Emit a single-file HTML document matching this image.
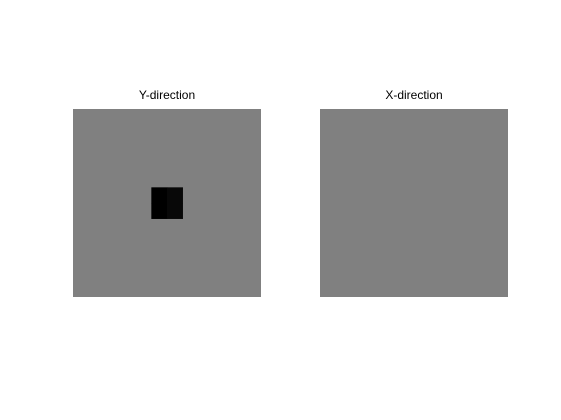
<!DOCTYPE html>
<html><head><meta charset="utf-8"><style>
body{margin:0;background:#fff;width:561px;height:420px;overflow:hidden}
svg{display:block}
text{font-family:"Liberation Sans",sans-serif;font-size:12px;fill:#000}
</style></head><body>
<svg id="chart" width="561" height="420">
<text x="167" y="99" text-anchor="middle">Y-direction</text>
<text x="414" y="99" text-anchor="middle">X-direction</text>
</svg>
<script>
// grid size and cell values (gray level 0-255)
const gridSize = 12;
const background = 128;
const yDarkCells = [[5,5,0],[5,6,8],[6,5,0],[6,6,8]]; // [row, col, level]
const xDarkCells = [];
const panels = [
  {name:'y-direction-image', x:73, y:109, cells:yDarkCells},
  {name:'x-direction-image', x:320, y:109, cells:xDarkCells}
];
const size = 188;
const svg = document.getElementById('chart');
const NS = 'http://www.w3.org/2000/svg';
const cell = size / gridSize;
panels.forEach(p => {
  const g = document.createElementNS(NS,'g');
  
  
  const bg = document.createElementNS(NS,'rect');
  bg.setAttribute('x', p.x); bg.setAttribute('y', p.y);
  bg.setAttribute('width', size); bg.setAttribute('height', size);
  bg.setAttribute('fill', `rgb(${background},${background},${background})`);
  
  
  g.appendChild(bg);
  p.cells.forEach(c => {
    const r = document.createElementNS(NS,'rect');
    r.setAttribute('x', p.x + c[1]*cell);
    r.setAttribute('y', p.y + c[0]*cell);
    r.setAttribute('width', cell + 0.3);
    r.setAttribute('height', cell + 0.3);
    r.setAttribute('fill', `rgb(${c[2]},${c[2]},${c[2]})`);
    
    
    g.appendChild(r);
  });
  svg.appendChild(g);
});
</script>
</body></html>
